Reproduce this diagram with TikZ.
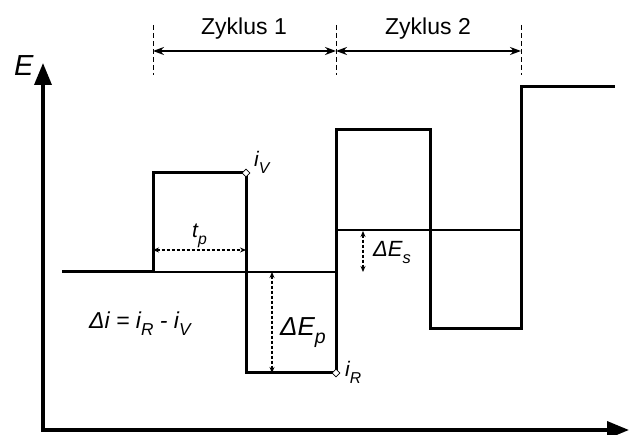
\documentclass[tikz,border=0pt]{standalone}
\usepackage{fontspec}
\setmainfont{Liberation Sans}
\usetikzlibrary{arrows.meta,shapes.geometric}
\newcommand\lsub[1]{\raisebox{-0.3em}{\scalebox{0.75}{#1}}}
\begin{document}
\begin{tikzpicture}[x=1pt,y=-1pt,
  wave/.style={line width=3pt, line join=miter},
  thinline/.style={line width=1.2pt},
  axisline/.style={line width=3.5pt, line join=miter, {Triangle[length=22pt,width=17pt]}-{Triangle[length=22pt,width=17pt]}},
  dimarrow/.style={line width=1.5pt, {Stealth[length=11pt,width=8pt]}-{Stealth[length=11pt,width=8pt]}},
  dasharrow/.style={line width=1.3pt, dash pattern=on 3pt off 2pt, {Stealth[length=6pt,width=5pt]}-{Stealth[length=6pt,width=5pt]}},
  guide/.style={line width=1pt, dash pattern=on 5pt off 3pt},
  pointmark/.style={diamond, draw, fill=white, line width=0.8pt, minimum size=8pt, inner sep=0pt},
  lbl/.style={inner sep=0pt, anchor=base west}
]
\useasboundingbox (0,0) rectangle (630,435);
% axes
\coordinate (ytop) at (43,63);
\coordinate (orig) at (43,430);
\coordinate (xend) at (629,430);
\draw[axisline] (ytop) -- (orig) -- (xend);
\node[lbl, font=\fontsize{29}{33}\selectfont\itshape] (E) at (14,76) {E};
% waveform
\coordinate (w0) at (62,272);
\coordinate (w1) at (153,272);
\coordinate (w2) at (153,173);
\coordinate (w3) at (246,173);
\coordinate (w4) at (246,373);
\coordinate (w5) at (336,373);
\coordinate (w6) at (336,130);
\coordinate (w7) at (430,130);
\coordinate (w8) at (430,329);
\coordinate (w9) at (521,329);
\coordinate (w10) at (521,87);
\coordinate (w11) at (615,87);
\draw[thinline] (w1) -- (336,272) coordinate (m1);
\draw[thinline] (336,230) coordinate (m2) -- (521,230) coordinate (m3);
\draw[wave] (w0) -- (w1) -- (w2) -- (w3) -- (w4) -- (w5) -- (w6) -- (w7) -- (w8) -- (w9) -- (w10) -- (w11);
\node[pointmark] (iV) at (w3) {};
\node[pointmark] (iR) at (w5) {};
\node[lbl, font=\fontsize{21}{25}\selectfont\itshape] (iVl) at (254,167) {i\lsub{V}};
\node[lbl, font=\fontsize{21}{25}\selectfont\itshape] (iRl) at (345,377) {i\lsub{R}};
% dashed dimension arrows
\coordinate (tpa) at (153,250);
\coordinate (tpb) at (246,250);
\draw[dasharrow] (tpa) -- (tpb);
\node[lbl, font=\fontsize{21}{25}\selectfont\itshape] (tp) at (192,238) {t\lsub{p}};
\coordinate (epa) at (272,272);
\coordinate (epb) at (272,373);
\draw[dasharrow] (epa) -- (epb);
\node[lbl, font=\fontsize{26}{30}\selectfont\itshape] (Ep) at (280,336) {ΔE\lsub{p}};
\coordinate (esa) at (363,231);
\coordinate (esb) at (363,272);
\draw[dasharrow] (esa) -- (esb);
\node[lbl, font=\fontsize{22}{26}\selectfont\itshape] (Es) at (373,257) {ΔE\lsub{s}};
\node[lbl, font=\fontsize{23}{27}\selectfont\itshape] (di) at (89,329) {Δi = i\lsub{R} - i\lsub{V}};
% cycles
\coordinate (g1t) at (153,25); \coordinate (g1b) at (153,75);
\coordinate (g2t) at (336,25); \coordinate (g2b) at (336,75);
\coordinate (g3t) at (521,25); \coordinate (g3b) at (521,75);
\draw[guide] (g1t) -- (g1b);
\draw[guide] (g2t) -- (g2b);
\draw[guide] (g3t) -- (g3b);
\coordinate (c1) at (153,51); \coordinate (c2) at (336,51); \coordinate (c3) at (521,51);
\draw[dimarrow] (c1) -- (c2);
\draw[dimarrow] (c2) -- (c3);
\node[font=\fontsize{23}{27}\selectfont, anchor=base, inner sep=0pt] (z1) at (244,35) {Zyklus 1};
\node[font=\fontsize{23}{27}\selectfont, anchor=base, inner sep=0pt] (z2) at (428,35) {Zyklus 2};
\end{tikzpicture}
\end{document}
